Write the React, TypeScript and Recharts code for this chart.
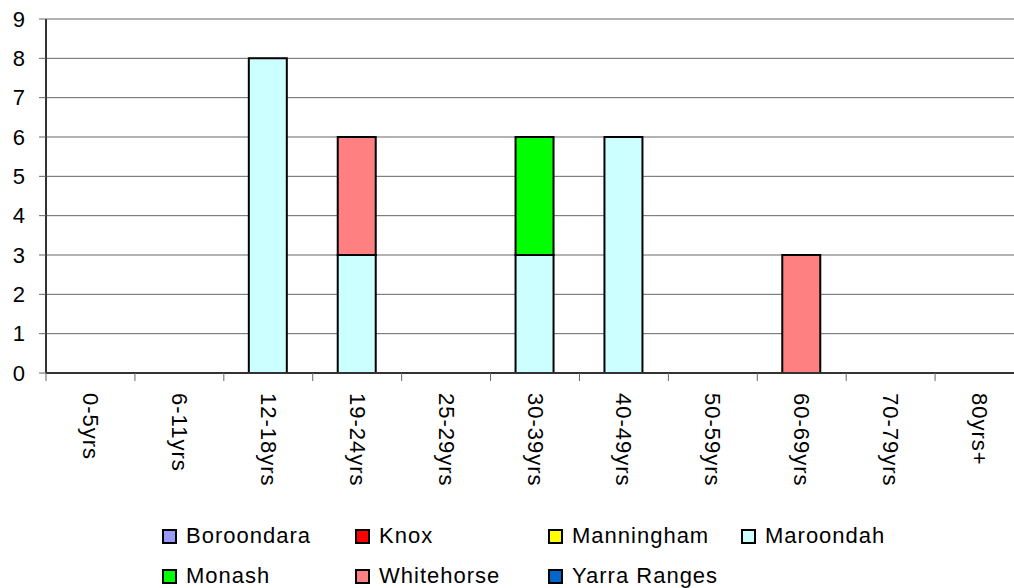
import React from 'react';
import { BarChart, Bar, XAxis, YAxis, CartesianGrid } from 'recharts';

const CATEGORIES = ['0-5yrs', '6-11yrs', '12-18yrs', '19-24yrs', '25-29yrs', '30-39yrs', '40-49yrs', '50-59yrs', '60-69yrs', '70-79yrs', '80yrs+'];
const BOROONDARA = [0, 0, 0, 0, 0, 0, 0, 0, 0, 0, 0];
const KNOX = [0, 0, 0, 0, 0, 0, 0, 0, 0, 0, 0];
const MANNINGHAM = [0, 0, 0, 0, 0, 0, 0, 0, 0, 0, 0];
const MAROONDAH = [0, 0, 8, 3, 0, 3, 6, 0, 0, 0, 0];
const MONASH = [0, 0, 0, 0, 0, 3, 0, 0, 0, 0, 0];
const WHITEHORSE = [0, 0, 0, 3, 0, 0, 0, 0, 3, 0, 0];
const YARRA_RANGES = [0, 0, 0, 0, 0, 0, 0, 0, 0, 0, 0];
const Y_TICKS = [0, 1, 2, 3, 4, 5, 6, 7, 8, 9];

const SERIES = [
  { key: 'Boroondara', values: BOROONDARA, color: '#9999FF' },
  { key: 'Knox', values: KNOX, color: '#FF0000' },
  { key: 'Manningham', values: MANNINGHAM, color: '#FFFF00' },
  { key: 'Maroondah', values: MAROONDAH, color: '#CCFFFF' },
  { key: 'Monash', values: MONASH, color: '#00FF00' },
  { key: 'Whitehorse', values: WHITEHORSE, color: '#FF8080' },
  { key: 'Yarra Ranges', values: YARRA_RANGES, color: '#0066CC' },
];

const data = CATEGORIES.map((c, i) => {
  const row: Record<string, any> = { name: c };
  SERIES.forEach((s) => { row[s.key] = s.values[i]; });
  return row;
});

const CHART_W = 1024;
const CHART_H = 588;
const Y_AXIS_W = 46;
const X_AXIS_H = 215;
const BAND = (CHART_W - Y_AXIS_W) / CATEGORIES.length;
const FONT = '"Liberation Sans", Arial, sans-serif';

const XTick = (props: any) => {
  const { x, y, payload } = props;
  const bx = x - BAND / 2;
  return (
    <g>
      <line x1={bx} y1={y - 8} x2={bx} y2={y} stroke="#666" strokeWidth={1} />
      <text
        x={0}
        y={0}
        transform={`translate(${x},${y + 12}) rotate(90)`}
        textAnchor="start"
        dominantBaseline="central"
        fontFamily={FONT}
        fontSize={22}
        letterSpacing={1}
        fill="#000"
      >
        {payload.value}
      </text>
    </g>
  );
};

export default function App() {
  return (
    <div style={{ position: 'absolute', left: 0, top: 0, width: 1014, height: 588, overflow: 'hidden', background: '#fff' }}>
      <BarChart
        width={CHART_W}
        height={CHART_H}
        data={data}
        margin={{ top: 19, right: 0, left: 0, bottom: 0 }}
        barSize={38}
      >
        <CartesianGrid vertical={false} stroke="#666" strokeWidth={1} />
        <XAxis
          dataKey="name"
          height={X_AXIS_H}
          interval={0}
          tickLine={false}
          axisLine={{ stroke: '#333', strokeWidth: 2 }}
          tick={<XTick />}
        />
        <YAxis
          width={Y_AXIS_W}
          domain={[0, 9]}
          ticks={Y_TICKS}
          interval={0}
          tickSize={7}
          tickMargin={14}
          tickLine={{ stroke: '#666' }}
          axisLine={{ stroke: '#333', strokeWidth: 2 }}
          tick={{ fontFamily: FONT, fontSize: 22, fill: '#000' }}
        />
        {SERIES.map((s) => (
          <Bar
            key={s.key}
            dataKey={s.key}
            stackId="a"
            fill={s.color}
            stroke="#000"
            strokeWidth={2}
            isAnimationActive={false}
          />
        ))}
      </BarChart>
      <div
        style={{
          position: 'absolute',
          left: 162,
          top: 516,
          display: 'grid',
          gridTemplateColumns: '193px 193px 193px 193px',
          gridAutoRows: '40px',
          fontFamily: FONT,
          fontSize: 22,
          letterSpacing: 1,
          color: '#000',
        }}
      >
        {SERIES.map((s) => (
          <div key={s.key} style={{ display: 'flex', alignItems: 'center', height: 40, whiteSpace: 'nowrap' }}>
            <span
              style={{
                display: 'inline-block',
                width: 11,
                height: 11,
                border: '2px solid #000',
                background: s.color,
                marginRight: 9,
              }}
            />
            <span style={{ lineHeight: '40px' }}>{s.key}</span>
          </div>
        ))}
      </div>
    </div>
  );
}
